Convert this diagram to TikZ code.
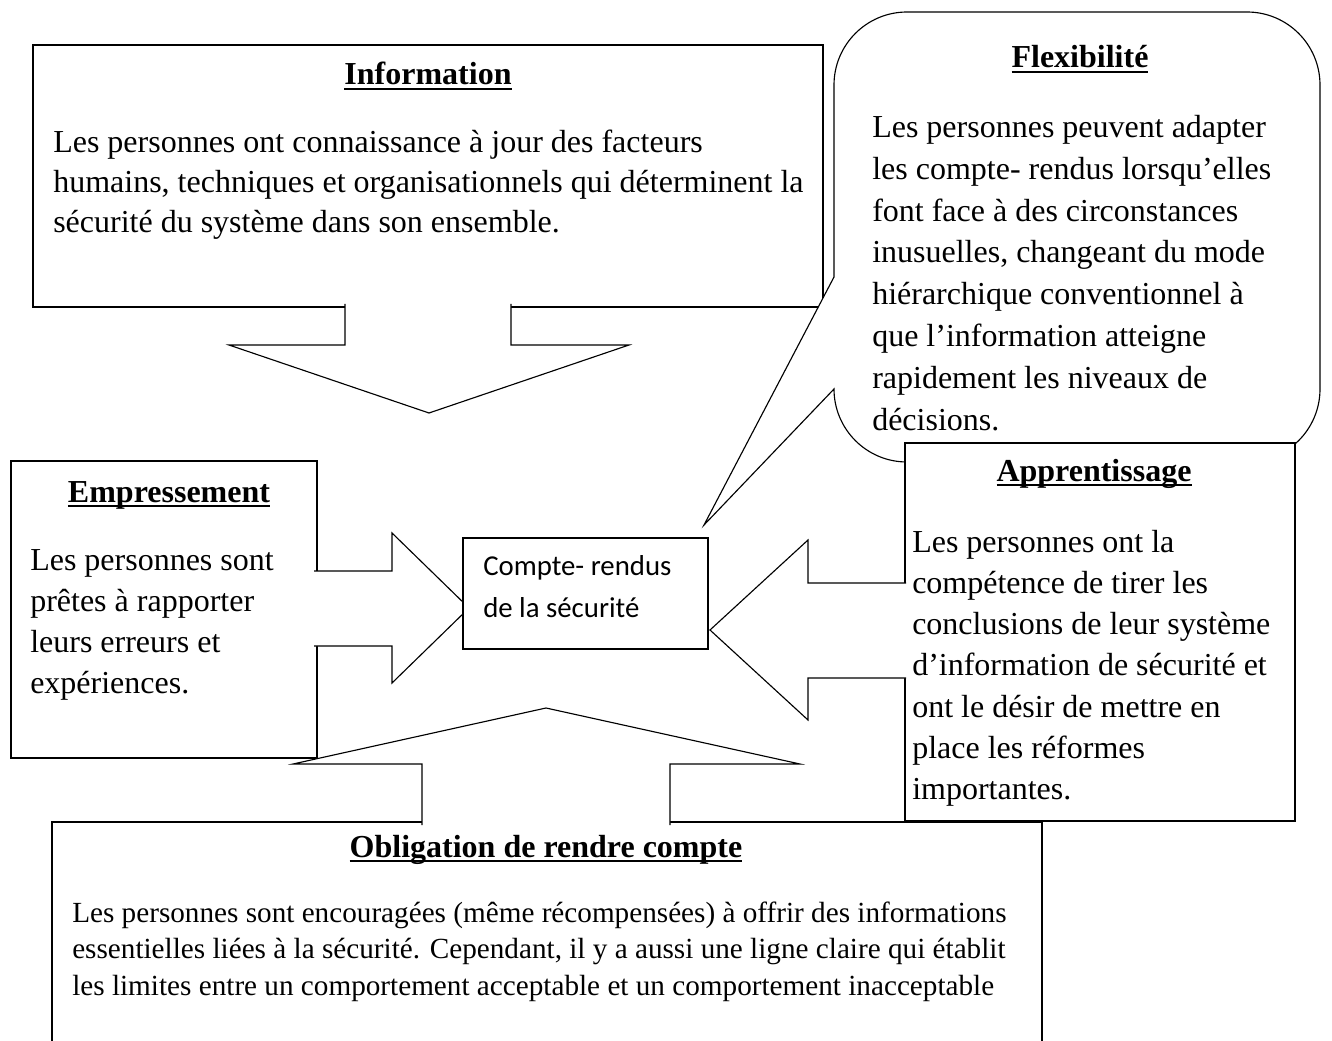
\documentclass[tikz,border=0pt]{standalone}
\usepackage{fontspec}
\setmainfont{Liberation Serif}
\newfontfamily\calib{Carlito}
\newcommand\ttlu[1]{\setbox0\hbox{\bfseries #1}\rlap{\rule[-3.9pt]{\wd0}{1.8pt}}\box0}
\begin{document}
\begin{tikzpicture}[x=0.75pt,y=-0.75pt,
  box/.style={draw, line width=1.45pt, fill=white, inner sep=0, anchor=north west},
  shp/.style={draw, line width=0.85pt, fill=white, line join=miter},
  ttl/.style={inner sep=0, anchor=base, font=\fontsize{24}{30}\selectfont},
  body/.style={inner sep=0, anchor=north west, align=left}]
\fill[white] (0,0) rectangle (1332,1041);
\useasboundingbox (0,0) rectangle (1332,1041);

% Information
\node[box, minimum width=790*0.75pt, minimum height=262*0.75pt] (infobox) at (32,44) {};
\node[ttl] (infoT) at (428,85) {\ttlu{Information}};
\node[body, font=\fontsize{24}{30}\selectfont] (infoB) at (53,124) {\strut Les personnes ont connaissance à jour des facteurs\\humains, techniques et organisationnels qui déterminent la\\sécurité du système dans son ensemble.};

% Flexibilite bubble
\draw[shp] (834,277) -- (704,525) -- (834,389)
  arc[start angle=180, end angle=90, radius=73] -- (1247,462)
  arc[start angle=90, end angle=0, radius=73] -- (1320,85)
  arc[start angle=0, end angle=-90, radius=73] -- (907,12)
  arc[start angle=-90, end angle=-180, radius=73] -- cycle;
\node[ttl] (flexT) at (1080,68) {\ttlu{Flexibilité}};
\node[body, font=\fontsize{24}{31.4}\selectfont] (flexB) at (872,107.7) {\strut Les personnes peuvent adapter\\les compte- rendus lorsqu’elles\\font face à des circonstances\\inusuelles, changeant du mode\\hiérarchique conventionnel à\\que l’information atteigne\\rapidement les niveaux de\\décisions.};

% down arrow
\draw[shp] (345,304) -- (345,345) -- (229,345) -- (429,413) -- (629,345) -- (511,345) -- (511,304);

% Empressement
\node[box, minimum width=306*0.75pt, minimum height=297*0.75pt] (empbox) at (10,460) {};
\node[ttl] (empT) at (169,502) {\ttlu{Empressement}};
\node[body, font=\fontsize{24}{30.75}\selectfont] (empB) at (30,541.3) {\strut Les personnes sont\\prêtes à rapporter\\leurs erreurs et\\expériences.};
\draw[shp] (314,571) -- (392,571) -- (392,533) -- (469,608) -- (392,683) -- (392,646) -- (314,646);

% Apprentissage
\node[box, minimum width=390*0.75pt, minimum height=378*0.75pt] (appbox) at (904,442) {};
\node[ttl] (appT) at (1094,481) {\ttlu{Apprentissage}};
\node[body, font=\fontsize{24}{30.9}\selectfont] (appB) at (912,523.2) {\strut Les personnes ont la\\compétence de tirer les\\conclusions de leur système\\d’information de sécurité et\\ont le désir de mettre en\\place les réformes\\importantes.};
\draw[shp] (906,583) -- (808,583) -- (808,540) -- (710,630) -- (808,720) -- (808,678) -- (906,678);

% central box
\node[box, minimum width=245*0.75pt, minimum height=111*0.75pt] (cbox) at (462,537) {};
\node[body, font=\calib\fontsize{21.6}{31.5}\selectfont] (cT) at (483,545.6) {\strut Compte- rendus\\de la sécurité};

% Obligation
\draw[line width=1.45pt] (52,1045) -- (52,822) -- (1042,822) -- (1042,1045);
\node[ttl] (oblT) at (546,857) {\ttlu{Obligation de rendre compte}};
\node[body, font=\fontsize{21.9}{27.4}\selectfont] (oblB) at (72,896.5) {\strut Les personnes sont encouragées (même récompensées) à offrir des informations\\essentielles liées à la sécurité. Cependant, il y a aussi une ligne claire qui établit\\les limites entre un comportement acceptable et un comportement inacceptable};
\draw[shp] (422,825) -- (422,764) -- (293,764) -- (546,708) -- (800,764) -- (670,764) -- (670,825);
\end{tikzpicture}
\end{document}
